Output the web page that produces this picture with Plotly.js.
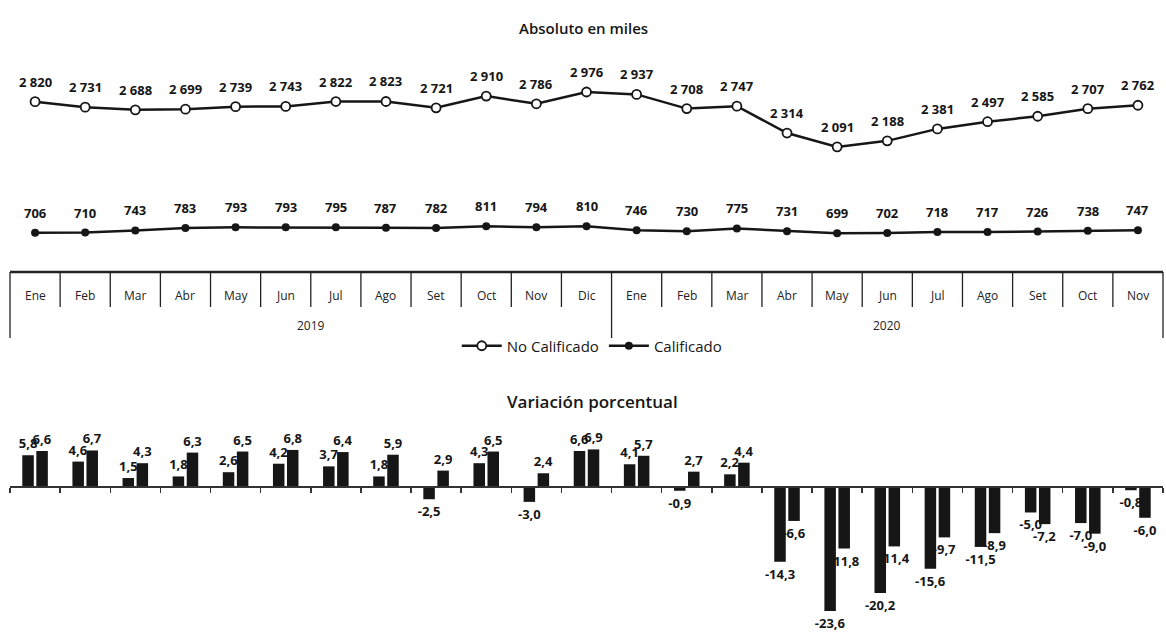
<!DOCTYPE html>
<html>
<head>
<meta charset="utf-8">
<script src="https://cdn.plot.ly/plotly-3.0.1.min.js"></script>
<style>html,body{margin:0;padding:0;background:#fff;}#chart{width:1166px;height:632px;}</style>
</head>
<body>
<div id="chart"></div>
<script>
// ---- data ----
const months = ['Ene','Feb','Mar','Abr','May','Jun','Jul','Ago','Set','Oct','Nov','Dic','Ene','Feb','Mar','Abr','May','Jun','Jul','Ago','Set','Oct','Nov'];
const monthYear = ['2019','2019','2019','2019','2019','2019','2019','2019','2019','2019','2019','2019','2020','2020','2020','2020','2020','2020','2020','2020','2020','2020','2020'];
const years = ['2019','2020'];
const noCalificado = [2820,2731,2688,2699,2739,2743,2822,2823,2721,2910,2786,2976,2937,2708,2747,2314,2091,2188,2381,2497,2585,2707,2762];
const calificado = [706,710,743,783,793,793,795,787,782,811,794,810,746,730,775,731,699,702,718,717,726,738,747];
const varNoCalificado = [5.8,4.6,1.5,1.8,2.6,4.2,3.7,1.8,-2.5,4.3,-3.0,6.6,4.1,-0.9,2.2,-14.3,-23.6,-20.2,-15.6,-11.5,-5.0,-7.0,-0.8];
const varCalificado = [6.6,6.7,4.3,6.3,6.5,6.8,6.4,5.9,2.9,6.5,2.4,6.9,5.7,2.7,4.4,-6.6,-11.8,-11.4,-9.7,-8.9,-7.2,-9.0,-6.0];
const seriesNames = ['No Calificado','Calificado'];
const titleTop = 'Absoluto en miles';
const titleBottom = 'Variación porcentual';

// ---- helpers ----
const H = 632;
const py = p => 1 - p / H;
const idx = months.map((_, i) => i);
const n = months.length;
const fmtThousands = v => v >= 1000 ? Math.floor(v / 1000) + ' ' + String(v % 1000).padStart(3, '0') : String(v);
const fmtPct = v => v.toFixed(1).replace('.', ',');
const INK = '#161616';
const FONT = 'Open Sans, Lato, sans-serif';

const traces = [
  {
    type: 'scatter', mode: 'lines+markers', name: seriesNames[0],
    x: idx, y: noCalificado, xaxis: 'x', yaxis: 'y',
    line: {color: INK, width: 2.5},
    marker: {symbol: 'circle', size: 9, color: '#ffffff', line: {color: INK, width: 1.8}},
    cliponaxis: false
  },
  {
    type: 'scatter', mode: 'lines+markers', name: seriesNames[1],
    x: idx, y: calificado, xaxis: 'x', yaxis: 'y',
    line: {color: INK, width: 2.5},
    marker: {symbol: 'circle', size: 8, color: INK},
    cliponaxis: false
  },
  {
    type: 'bar', name: seriesNames[0] + ' %', x: idx, y: varNoCalificado,
    xaxis: 'x2', yaxis: 'y2', marker: {color: INK},
    text: varNoCalificado.map(fmtPct), textposition: 'outside', constraintext: 'none',
    textfont: {family: FONT, size: 13, color: INK, weight: 'bold'},
    cliponaxis: false, showlegend: false, hoverinfo: 'skip'
  },
  {
    type: 'bar', name: seriesNames[1] + ' %', x: idx, y: varCalificado,
    xaxis: 'x2', yaxis: 'y2', marker: {color: INK},
    text: varCalificado.map(fmtPct), textposition: 'outside', constraintext: 'none',
    textfont: {family: FONT, size: 13, color: INK, weight: 'bold'},
    cliponaxis: false, showlegend: false, hoverinfo: 'skip'
  }
];

const annotations = [];
annotations.push({xref: 'paper', yref: 'paper', x: 0.497, y: py(28), text: titleTop, showarrow: false,
  font: {family: FONT, size: 15, color: INK, weight: 600}, xanchor: 'center', yanchor: 'middle'});
annotations.push({xref: 'paper', yref: 'paper', x: 0.505, y: py(401), text: titleBottom, showarrow: false,
  font: {family: FONT, size: 17, color: INK, weight: 600}, xanchor: 'center', yanchor: 'middle'});
noCalificado.forEach((v, i) => annotations.push({xref: 'x', yref: 'y', x: i, y: v, yshift: 20, text: fmtThousands(v),
  showarrow: false, font: {family: FONT, size: 13, color: INK, weight: 'bold'}}));
calificado.forEach((v, i) => annotations.push({xref: 'x', yref: 'y', x: i, y: v, yshift: 20, text: fmtThousands(v),
  showarrow: false, font: {family: FONT, size: 13, color: INK, weight: 'bold'}}));
months.forEach((m, i) => annotations.push({xref: 'x', yref: 'paper', x: i, y: py(295), text: m,
  showarrow: false, font: {family: FONT, size: 12, color: '#222'}}));
years.forEach(yr => {
  const ids = idx.filter(i => monthYear[i] === yr);
  const c = (ids[0] + ids[ids.length - 1]) / 2;
  annotations.push({xref: 'x', yref: 'paper', x: c, y: py(325), text: yr, showarrow: false,
    font: {family: FONT, size: 12, color: '#222'}});
});

const shapes = [];
shapes.push({type: 'line', xref: 'paper', yref: 'paper', x0: 0, x1: 1, y0: py(272), y1: py(272), line: {color: '#222', width: 2.5}});
for (let k = 0; k <= n; k++) {
  const isYearEdge = k === 0 || k === n || monthYear[k] !== monthYear[k - 1];
  shapes.push({type: 'line', xref: 'paper', yref: 'paper', x0: k / n, x1: k / n,
    y0: py(272), y1: py(isYearEdge ? 338 : 307), line: {color: '#222', width: 1.3}});
}

const boundaries = [];
for (let k = 0; k <= n; k++) boundaries.push(k - 0.5);

const layout = {
  width: 1166, height: 632,
  margin: {l: 10, r: 3, t: 0, b: 0},
  paper_bgcolor: '#fff', plot_bgcolor: 'rgba(0,0,0,0)',
  font: {family: FONT, color: INK},
  showlegend: true,
  legend: {orientation: 'h', x: 0.505, xanchor: 'center', y: py(346), yanchor: 'middle',
    font: {family: FONT, size: 15, color: INK}, bgcolor: 'rgba(0,0,0,0)', itemwidth: 40},
  barmode: 'group', bargap: 0.44, bargroupgap: 0.18,
  xaxis: {domain: [0, 1], range: [-0.5, n - 0.5], visible: false, anchor: 'y', fixedrange: true},
  yaxis: {domain: [py(272), py(60)], range: [73, 3492], visible: false, fixedrange: true},
  xaxis2: {domain: [0, 1], range: [-0.5, n - 0.5], anchor: 'free', position: py(486),
    showline: true, linecolor: '#333', linewidth: 1.5, ticks: 'outside', ticklen: 5, tickwidth: 1.5,
    tickcolor: '#333', tickmode: 'array', tickvals: boundaries, showticklabels: false,
    showgrid: false, zeroline: false, fixedrange: true},
  yaxis2: {domain: [py(625), py(420)], range: [-26.23, 12.45], visible: false, zeroline: false, fixedrange: true},
  annotations: annotations,
  shapes: shapes
};

Plotly.newPlot('chart', traces, layout, {displayModeBar: false, staticPlot: true});
</script>
</body>
</html>
